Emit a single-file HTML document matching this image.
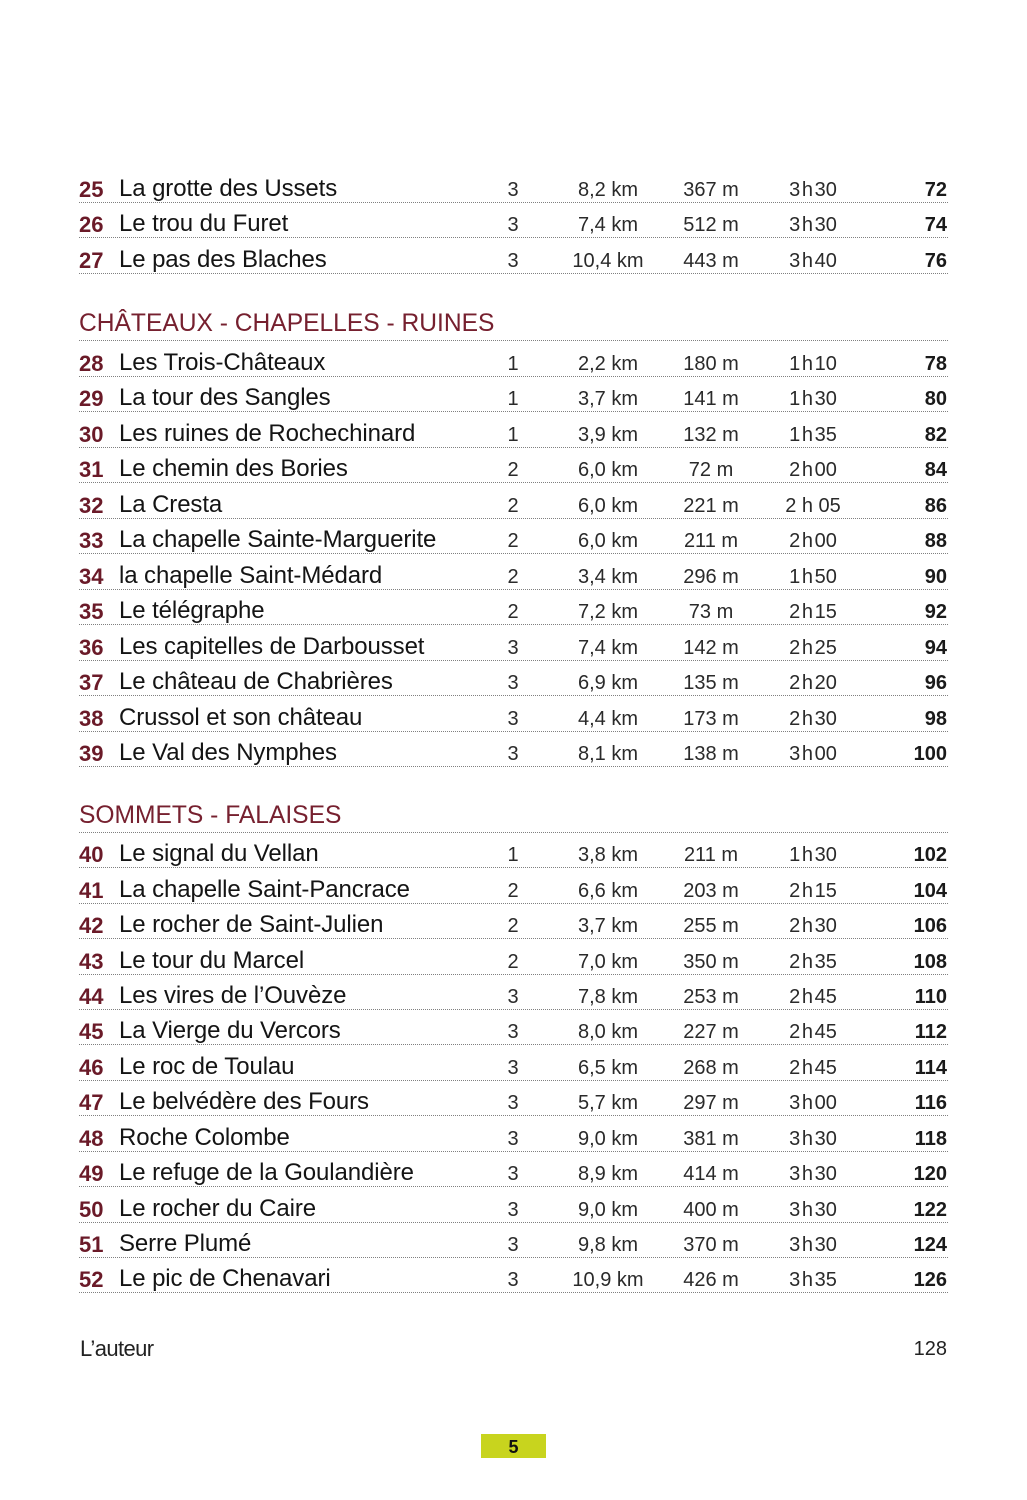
<!DOCTYPE html>
<html><head><meta charset="utf-8">
<style>
html,body{margin:0;padding:0;background:#fff;}
body{width:1027px;height:1500px;position:relative;overflow:hidden;font-family:"Liberation Sans",sans-serif;}
.r{position:absolute;left:79px;width:869px;height:36px;border-bottom:1px dotted #808080;}
.r span{position:absolute;bottom:1px;line-height:1;white-space:nowrap;}
.n{left:0;font-size:22px;font-weight:bold;color:#6a1a28;}
.t{left:40px;font-size:24px;color:#141414;letter-spacing:-0.1px;}
.r span.c{font-size:20px;color:#2a2a2a;width:110px;text-align:center;bottom:2px;}
.d{left:379px;}
.k{left:474px;}
.m{left:577px;}
.h{left:679px;}
.r span.p{right:1px;font-size:20px;font-weight:bold;color:#1a1a1a;text-align:right;bottom:2px;}
.hd{position:absolute;left:79px;width:869px;height:40px;border-bottom:1px dotted #808080;}
.hd span{position:absolute;left:0;bottom:3px;line-height:1;font-size:24.6px;color:#76202f;white-space:nowrap;}
</style></head><body>

<div class="r" style="top:166px"><span class="n">25</span><span class="t">La grotte des Ussets</span><span class="c d">3</span><span class="c k">8,2 km</span><span class="c m">367 m</span><span class="c h">3&#8202;h&#8202;30</span><span class="p">72</span></div>
<div class="r" style="top:201px"><span class="n">26</span><span class="t">Le trou du Furet</span><span class="c d">3</span><span class="c k">7,4 km</span><span class="c m">512 m</span><span class="c h">3&#8202;h&#8202;30</span><span class="p">74</span></div>
<div class="r" style="top:237px"><span class="n">27</span><span class="t">Le pas des Blaches</span><span class="c d">3</span><span class="c k">10,4 km</span><span class="c m">443 m</span><span class="c h">3&#8202;h&#8202;40</span><span class="p">76</span></div>

<div class="hd" style="top:300px"><span>CHÂTEAUX - CHAPELLES - RUINES</span></div>

<div class="r" style="top:340px"><span class="n">28</span><span class="t">Les Trois-Châteaux</span><span class="c d">1</span><span class="c k">2,2 km</span><span class="c m">180 m</span><span class="c h">1&#8202;h&#8202;10</span><span class="p">78</span></div>
<div class="r" style="top:375px"><span class="n">29</span><span class="t">La tour des Sangles</span><span class="c d">1</span><span class="c k">3,7 km</span><span class="c m">141 m</span><span class="c h">1&#8202;h&#8202;30</span><span class="p">80</span></div>
<div class="r" style="top:411px"><span class="n">30</span><span class="t">Les ruines de Rochechinard</span><span class="c d">1</span><span class="c k">3,9 km</span><span class="c m">132 m</span><span class="c h">1&#8202;h&#8202;35</span><span class="p">82</span></div>
<div class="r" style="top:446px"><span class="n">31</span><span class="t">Le chemin des Bories</span><span class="c d">2</span><span class="c k">6,0 km</span><span class="c m">72 m</span><span class="c h">2&#8202;h&#8202;00</span><span class="p">84</span></div>
<div class="r" style="top:482px"><span class="n">32</span><span class="t">La Cresta</span><span class="c d">2</span><span class="c k">6,0 km</span><span class="c m">221 m</span><span class="c h">2 h 05</span><span class="p">86</span></div>
<div class="r" style="top:517px"><span class="n">33</span><span class="t">La chapelle Sainte-Marguerite</span><span class="c d">2</span><span class="c k">6,0 km</span><span class="c m">211 m</span><span class="c h">2&#8202;h&#8202;00</span><span class="p">88</span></div>
<div class="r" style="top:553px"><span class="n">34</span><span class="t">la chapelle Saint-Médard</span><span class="c d">2</span><span class="c k">3,4 km</span><span class="c m">296 m</span><span class="c h">1&#8202;h&#8202;50</span><span class="p">90</span></div>
<div class="r" style="top:588px"><span class="n">35</span><span class="t">Le télégraphe</span><span class="c d">2</span><span class="c k">7,2 km</span><span class="c m">73 m</span><span class="c h">2&#8202;h&#8202;15</span><span class="p">92</span></div>
<div class="r" style="top:624px"><span class="n">36</span><span class="t">Les capitelles de Darbousset</span><span class="c d">3</span><span class="c k">7,4 km</span><span class="c m">142 m</span><span class="c h">2&#8202;h&#8202;25</span><span class="p">94</span></div>
<div class="r" style="top:659px"><span class="n">37</span><span class="t">Le château de Chabrières</span><span class="c d">3</span><span class="c k">6,9 km</span><span class="c m">135 m</span><span class="c h">2&#8202;h&#8202;20</span><span class="p">96</span></div>
<div class="r" style="top:695px"><span class="n">38</span><span class="t">Crussol et son château</span><span class="c d">3</span><span class="c k">4,4 km</span><span class="c m">173 m</span><span class="c h">2&#8202;h&#8202;30</span><span class="p">98</span></div>
<div class="r" style="top:730px"><span class="n">39</span><span class="t">Le Val des Nymphes</span><span class="c d">3</span><span class="c k">8,1 km</span><span class="c m">138 m</span><span class="c h">3&#8202;h&#8202;00</span><span class="p">100</span></div>

<div class="hd" style="top:792px"><span>SOMMETS - FALAISES</span></div>

<div class="r" style="top:831px"><span class="n">40</span><span class="t">Le signal du Vellan</span><span class="c d">1</span><span class="c k">3,8 km</span><span class="c m">211 m</span><span class="c h">1&#8202;h&#8202;30</span><span class="p">102</span></div>
<div class="r" style="top:867px"><span class="n">41</span><span class="t">La chapelle Saint-Pancrace</span><span class="c d">2</span><span class="c k">6,6 km</span><span class="c m">203 m</span><span class="c h">2&#8202;h&#8202;15</span><span class="p">104</span></div>
<div class="r" style="top:902px"><span class="n">42</span><span class="t">Le rocher de Saint-Julien</span><span class="c d">2</span><span class="c k">3,7 km</span><span class="c m">255 m</span><span class="c h">2&#8202;h&#8202;30</span><span class="p">106</span></div>
<div class="r" style="top:938px"><span class="n">43</span><span class="t">Le tour du Marcel</span><span class="c d">2</span><span class="c k">7,0 km</span><span class="c m">350 m</span><span class="c h">2&#8202;h&#8202;35</span><span class="p">108</span></div>
<div class="r" style="top:973px"><span class="n">44</span><span class="t">Les vires de l’Ouvèze</span><span class="c d">3</span><span class="c k">7,8 km</span><span class="c m">253 m</span><span class="c h">2&#8202;h&#8202;45</span><span class="p">110</span></div>
<div class="r" style="top:1008px"><span class="n">45</span><span class="t">La Vierge du Vercors</span><span class="c d">3</span><span class="c k">8,0 km</span><span class="c m">227 m</span><span class="c h">2&#8202;h&#8202;45</span><span class="p">112</span></div>
<div class="r" style="top:1044px"><span class="n">46</span><span class="t">Le roc de Toulau</span><span class="c d">3</span><span class="c k">6,5 km</span><span class="c m">268 m</span><span class="c h">2&#8202;h&#8202;45</span><span class="p">114</span></div>
<div class="r" style="top:1079px"><span class="n">47</span><span class="t">Le belvédère des Fours</span><span class="c d">3</span><span class="c k">5,7 km</span><span class="c m">297 m</span><span class="c h">3&#8202;h&#8202;00</span><span class="p">116</span></div>
<div class="r" style="top:1115px"><span class="n">48</span><span class="t">Roche Colombe</span><span class="c d">3</span><span class="c k">9,0 km</span><span class="c m">381 m</span><span class="c h">3&#8202;h&#8202;30</span><span class="p">118</span></div>
<div class="r" style="top:1150px"><span class="n">49</span><span class="t">Le refuge de la Goulandière</span><span class="c d">3</span><span class="c k">8,9 km</span><span class="c m">414 m</span><span class="c h">3&#8202;h&#8202;30</span><span class="p">120</span></div>
<div class="r" style="top:1186px"><span class="n">50</span><span class="t">Le rocher du Caire</span><span class="c d">3</span><span class="c k">9,0 km</span><span class="c m">400 m</span><span class="c h">3&#8202;h&#8202;30</span><span class="p">122</span></div>
<div class="r" style="top:1221px"><span class="n">51</span><span class="t">Serre Plumé</span><span class="c d">3</span><span class="c k">9,8 km</span><span class="c m">370 m</span><span class="c h">3&#8202;h&#8202;30</span><span class="p">124</span></div>
<div class="r" style="top:1256px"><span class="n">52</span><span class="t">Le pic de Chenavari</span><span class="c d">3</span><span class="c k">10,9 km</span><span class="c m">426 m</span><span class="c h">3&#8202;h&#8202;35</span><span class="p">126</span></div>

<div style="position:absolute;left:80px;top:1338px;font-size:22px;line-height:1;color:#222;letter-spacing:-0.6px;">L’auteur</div>
<div style="position:absolute;right:80px;top:1339px;font-size:20px;line-height:1;color:#222;">128</div>

<div style="position:absolute;left:481px;top:1434px;width:65px;height:24px;background:#c8d41e;text-align:center;font-size:18px;font-weight:bold;line-height:26px;color:#111;">5</div>

</body></html>
